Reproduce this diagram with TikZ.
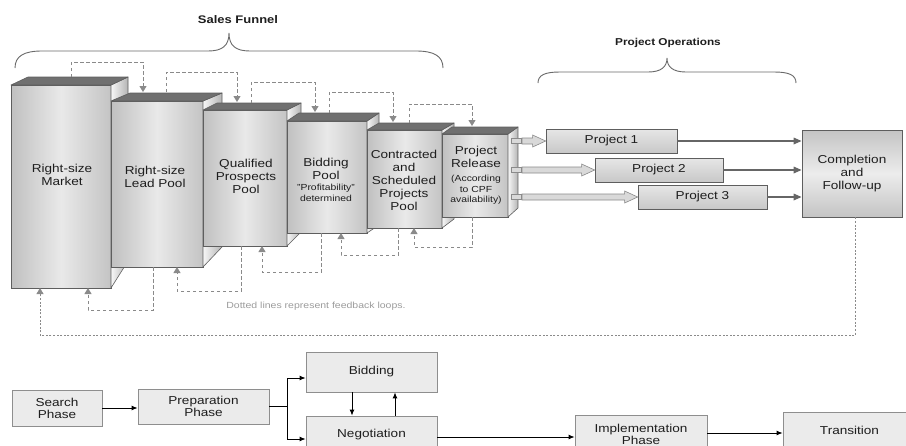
\documentclass[tikz,border=0pt]{standalone}
\usepackage{fontspec}
\setmainfont{Liberation Sans}[FakeStretch=1.18]
\usetikzlibrary{arrows.meta,calc}

\definecolor{edgec}{HTML}{5E5E5E}
\definecolor{topc}{HTML}{707070}
\definecolor{fL}{HTML}{C0C0C0}
\definecolor{fM}{HTML}{E9E9E9}
\definecolor{fR}{HTML}{C4C4C4}
\definecolor{sideL}{HTML}{F7F7F7}
\definecolor{sideR}{HTML}{B4B4B4}
\definecolor{loopc}{HTML}{8A8A8A}
\definecolor{notec}{HTML}{9C9C9C}
\definecolor{boxfill}{HTML}{EBEBEB}
\definecolor{boxedge}{HTML}{8E8E8E}
\definecolor{darkarr}{HTML}{666666}
\definecolor{bracec}{HTML}{6A6A6A}
\definecolor{projT}{HTML}{E6E6E6}
\definecolor{projB}{HTML}{C8C8C8}
\definecolor{compE}{HTML}{C4C4C4}
\definecolor{compM}{HTML}{ECECEC}
\definecolor{blkfill}{HTML}{D9D9D9}
\definecolor{blkedge}{HTML}{8A8A8A}
\definecolor{txt}{HTML}{1E1E1E}

\tikzset{
  front/.style={draw=edgec, line width=0.7pt, outer sep=0pt, inner sep=0pt,
    left color=fL, right color=fR, middle color=fM},
  topface/.style={fill=topc, draw=edgec, line width=0.6pt, line join=round},
  sideface/.style={left color=sideL, right color=sideR, draw=edgec,
    line width=0.6pt, line join=round},
  big/.style={font=\fontsize{11.5}{13}\selectfont, align=center, inner sep=0pt, text=txt},
  small/.style={font=\fontsize{8.8}{10.3}\selectfont, align=center, inner sep=0pt, text=txt},
  head/.style={font=\bfseries\fontsize{11}{13}\selectfont, inner sep=0pt, text=txt},
  brace/.style={draw=bracec, line width=0.9pt},
  fb/.style={draw=loopc, line width=0.9pt, dash pattern=on 3.5pt off 2.5pt,
    -{Triangle[width=7pt,length=6pt]}},
  bigfb/.style={draw=loopc, line width=0.8pt, dash pattern=on 2pt off 1.6pt,
    -{Triangle[width=7pt,length=6pt]}},
  proj/.style={draw=edgec, line width=0.7pt, top color=projT, bottom color=projB,
    font=\fontsize{11.5}{13}\selectfont, text=txt},
  comp/.style={draw=edgec, line width=0.7pt, top color=compE, bottom color=compE,
    middle color=compM, align=center, font=\fontsize{11.5}{13}\selectfont, text=txt},
  blockarrow/.style={fill=blkfill, draw=blkedge, line width=0.6pt, line join=miter},
  stub/.style={fill=blkfill, draw=blkedge, line width=0.6pt},
  dark/.style={draw=darkarr, line width=1.6pt, -{Triangle[width=6.5pt,length=8pt]}},
  fbox/.style={draw=boxedge, fill=boxfill, line width=0.8pt, align=center,
    font=\fontsize{11.5}{12}\selectfont, text=txt},
  flow/.style={draw=black, line width=0.9pt, -{Latex[length=6pt,width=5pt]}},
  plain/.style={draw=black, line width=0.9pt},
}

% side and top faces of a pool prism: node, depth x, depth y, rise of the back bottom corner
\newcommand\prismfaces[4]{%
  \path[sideface] (#1.north east) -- ++(#2,#3) -- ($(#1.south east)+(#2,-#4)$)
    -- (#1.south east) -- cycle;
  \path[topface] (#1.north west) -- ++(#2,#3) -- ($(#1.north east)+(#2,#3)$)
    -- (#1.north east) -- cycle;
}

\begin{document}
\begin{tikzpicture}[x=1pt,y=-1pt]
\clip (0,0) rectangle (906,445);
\fill[white] (0,0) rectangle (906,445);

% ---- headings and braces
\node[head] (sf) at (238,20) {Sales Funnel};
\node[head, font=\bfseries\fontsize{10}{12}\selectfont] (po) at (668,43) {Project Operations};
\draw[brace] (15,68) .. controls (15,56) and (24,51) .. (42,51) -- (208,51)
  .. controls (222,51) and (229,46) .. (229,33)
  .. controls (229,46) and (236,51) .. (250,51) -- (416,51)
  .. controls (434,51) and (443,56) .. (443,68);
\draw[brace] (538,83) .. controls (538,75) and (545,72) .. (560,72) -- (648,72)
  .. controls (661,72) and (667,67) .. (667,58)
  .. controls (667,67) and (673,72) .. (686,72) -- (774,72)
  .. controls (789,72) and (796,75) .. (796,83);

% ---- the funnel pools, back to front
\node[front, minimum width=100pt, minimum height=203pt] (b1) at (61,186.5) {};
\prismfaces{b1}{17}{-8}{27}
\node[front, minimum width=92pt, minimum height=166pt] (b2) at (157,184) {};
\prismfaces{b2}{19}{-8}{20}
\node[front, minimum width=84pt, minimum height=136pt] (b3) at (245,178) {};
\prismfaces{b3}{14}{-7}{14}
\node[front, minimum width=80pt, minimum height=112pt] (b4) at (327,177) {};
\prismfaces{b4}{12}{-8}{8}
\node[front, minimum width=75pt, minimum height=98pt] (b5) at (404.5,179) {};
\prismfaces{b5}{12}{-7}{9}
\node[front, minimum width=66pt, minimum height=83pt] (b6) at (475,175.5) {};
\prismfaces{b6}{10}{-7}{9}

% ---- pool labels
\node[big] (t1) at (62,175) {Right-size\\Market};
\node[big] (t2) at (155,177) {Right-size\\Lead Pool};
\node[big] (t3) at (246,176) {Qualified\\Prospects\\Pool};
\node[big] (t4) at (326,169) {Bidding\\Pool};
\node[small] (t4s) at (326,193) {"Profitability"\\determined};
\node[big] (t5) at (404,180.5) {Contracted\\and\\Scheduled\\Projects\\Pool};
\node[big] (t6) at (476,156.5) {Project\\Release};
\node[small] (t6s) at (476,190) {(According\\to CPF\\availability)};

% ---- feedback loops over the tops
\coordinate (o1) at (71,77);   \coordinate (i1) at (143,92);
\coordinate (o2) at (166,92);  \coordinate (i2) at (237,102);
\coordinate (o3) at (251,103); \coordinate (i3) at (315,112);
\coordinate (o4) at (329,113); \coordinate (i4) at (393,122);
\coordinate (o5) at (409,123); \coordinate (i5) at (472,126);
\draw[fb] (o1) -- ++(0,-15) -| (i1);
\draw[fb] (o2) -- ++(0,-20) -| (i2);
\draw[fb] (o3) -- ++(0,-21) -| (i3);
\draw[fb] (o4) -- ++(0,-21) -| (i4);
\draw[fb] (o5) -- ++(0,-19) -| (i5);

% ---- feedback loops under the bottoms
\coordinate (ob1) at (153,267); \coordinate (ib1) at (88,288);
\coordinate (ob2) at (241,246); \coordinate (ib2) at (177,267);
\coordinate (ob3) at (321,233); \coordinate (ib3) at (262,246);
\coordinate (ob4) at (398,228); \coordinate (ib4) at (341,233);
\coordinate (ob5) at (472,217); \coordinate (ib5) at (414,228);
\draw[fb] (ob1) -- ++(0,43) -| (ib1);
\draw[fb] (ob2) -- ++(0,45) -| (ib2);
\draw[fb] (ob3) -- ++(0,39) -| (ib3);
\draw[fb] (ob4) -- ++(0,27) -| (ib4);
\draw[fb] (ob5) -- ++(0,30) -| (ib5);

\node[font=\fontsize{8.9}{10}\selectfont, text=notec, inner sep=0pt] (note) at (316,306)
  {Dotted lines represent feedback loops.};

% ---- project operations
\node[proj, minimum width=131pt, minimum height=24pt] (p1) at (611.5,141) {Project 1};
\node[proj, minimum width=128pt, minimum height=24pt] (p2) at (659,170) {Project 2};
\node[proj, minimum width=129pt, minimum height=24pt] (p3) at (702.5,197) {Project 3};
\node[comp, minimum width=100pt, minimum height=87pt] (comp) at (852,173.5)
  {Completion\\and\\Follow-up};

% release arrows from the last pool into each project
\foreach \p in {p1,p2,p3}{
  \coordinate (r\p) at (b6.east |- \p.west);
  \draw[stub] ($(r\p)+(3,-2.5)$) rectangle ($(r\p)+(13,2.5)$);
  \draw[blockarrow] ($(r\p)+(14,-3)$) -- ($(\p.west)+(-13,-3)$) -- ($(\p.west)+(-13,-6)$)
    -- (\p.west) -- ($(\p.west)+(-13,6)$) -- ($(\p.west)+(-13,3)$)
    -- ($(r\p)+(14,3)$) -- cycle;
  \draw[dark] (\p.east) -- (\p.east -| comp.west);
}

% long feedback loop from completion back to the market
\coordinate (ibig) at (40,288);
\draw[bigfb] ([xshift=3pt]comp.south) -- ++(0,118) -| (ibig);

% ---- project life-cycle phases
\node[fbox, minimum width=90pt, minimum height=36pt] (search) at (57,408) {Search\\Phase};
\node[fbox, minimum width=131pt, minimum height=35pt] (prep) at (203.5,406.5) {Preparation\\Phase};
\node[fbox, minimum width=131pt, minimum height=40pt] (bid) at (371.5,372) {Bidding};
\node[fbox, minimum width=131pt, minimum height=38pt] (nego) at (371.5,435) {Negotiation};
\node[fbox, minimum width=132pt, minimum height=38pt] (impl) at (641,434) {Implementation\\Phase};
\node[fbox, minimum width=133pt, minimum height=36pt] (trans) at (849.5,430) {Transition};

\draw[flow] (search.east) -- (search.east -| prep.west);
\coordinate (jn) at ([xshift=18pt]prep.east);
\draw[plain] (prep.east) -- (jn);
\draw[flow] (jn) |- ([yshift=-6pt]bid.west);
\draw[flow] (jn) |- ([yshift=-4pt]nego.west);
\draw[flow] ([xshift=-19.5pt]bid.south) -- ([xshift=-19.5pt]nego.north);
\draw[flow] ([xshift=23.5pt]nego.north) -- ([xshift=23.5pt]bid.south);
\coordinate (ne) at ([yshift=-2pt]nego.east);
\draw[flow] (ne) -- (ne -| impl.west);
\coordinate (ie) at ([yshift=1pt]impl.east);
\draw[flow] (ie) -- (ie -| trans.west);
\end{tikzpicture}
\end{document}
